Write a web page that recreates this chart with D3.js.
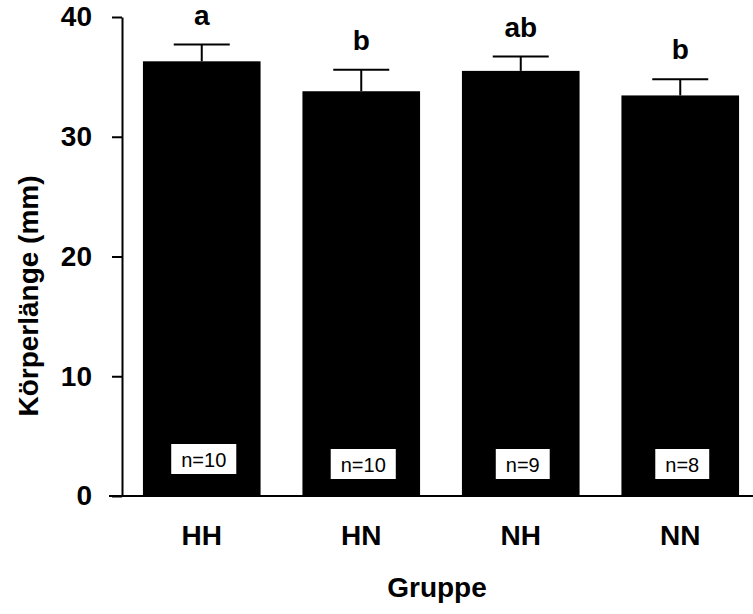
<!DOCTYPE html>
<html>
<head>
<meta charset="utf-8">
<script src="https://cdn.jsdelivr.net/npm/d3@7"></script>
<style>
  body { margin: 0; background: #fff; }
  svg { display: block; }
  text { font-family: "Liberation Sans", Arial, sans-serif; }
</style>
</head>
<body>
<div id="chart"></div>
<script>
// data
var groups = ["HH", "HN", "NH", "NN"];
var means = [36.3, 33.8, 35.5, 33.45];
var errors = [1.4, 1.8, 1.2, 1.35];
var letters = ["a", "b", "ab", "b"];
var counts = ["n=10", "n=10", "n=9", "n=8"];
var yTicks = [0, 10, 20, 30, 40];

var width = 753, height = 614;

var svg = d3.select("#chart")
	.append("svg")
	.attr("width", width)
	.attr("height", height);

// scales
var x = d3.scaleBand()
	.domain(groups)
	.range([122, 760])
	.paddingInner(0.2625)
	.paddingOuter(0.13125);

var y = d3.scaleLinear()
	.domain([0, 40])
	.range([496, 17]);

var data = groups.map(function (g, i) {
	return { group: g, mean: means[i], err: errors[i], letter: letters[i], n: counts[i] };
});

// bars
svg.selectAll(".bar")
	.data(data)
	.enter().append("rect")
	.attr("class", "bar")
	.attr("x", function (d) { return x(d.group); })
	.attr("y", function (d) { return y(d.mean); })
	.attr("width", x.bandwidth())
	.attr("height", function (d) { return y(0) - y(d.mean); })
	.attr("fill", "#000");

// error bars (upper only)
var cx = function (d) { return x(d.group) + x.bandwidth() / 2; };
svg.selectAll(".errv")
	.data(data)
	.enter().append("line")
	.attr("x1", cx).attr("x2", cx)
	.attr("y1", function (d) { return y(d.mean); })
	.attr("y2", function (d) { return y(d.mean + d.err); })
	.attr("stroke", "#000").attr("stroke-width", 2);
svg.selectAll(".errcap")
	.data(data)
	.enter().append("line")
	.attr("x1", function (d) { return cx(d) - 28; })
	.attr("x2", function (d) { return cx(d) + 28; })
	.attr("y1", function (d) { return y(d.mean + d.err); })
	.attr("y2", function (d) { return y(d.mean + d.err); })
	.attr("stroke", "#000").attr("stroke-width", 2);

// significance letters
svg.selectAll(".letter")
	.data(data)
	.enter().append("text")
	.attr("x", cx)
	.attr("y", function (d) { return y(d.mean + d.err) - 20; })
	.attr("text-anchor", "middle")
	.style("font-size", "28px")
	.style("font-weight", "bold")
	.text(function (d) { return d.letter; });

// n boxes inside bars
var nb = svg.selectAll(".nbox")
	.data(data)
	.enter().append("g")
	.attr("transform", function (d, i) { return "translate(" + (cx(d) + 2) + "," + (i == 0 ? 444 : 449) + ")"; });
nb.append("text")
	.attr("class", "ntext")
	.attr("y", 23)
	.attr("text-anchor", "middle")
	.style("font-size", "20px")
	.text(function (d) { return d.n; });
nb.each(function () {
	var g = d3.select(this);
	var bb = g.select("text").node().getBBox();
	g.insert("rect", "text")
		.attr("x", bb.x - 10)
		.attr("y", 0)
		.attr("width", bb.width + 20)
		.attr("height", 30)
		.attr("fill", "#fff");
});

// y axis
var yAxis = svg.append("g")
	.attr("transform", "translate(122,0)")
	.call(d3.axisLeft(y).tickValues(yTicks).tickSize(10).tickSizeOuter(0).tickPadding(20));
yAxis.select(".domain").attr("stroke-width", 2);
yAxis.selectAll(".tick line").attr("stroke-width", 2);
yAxis.selectAll(".tick text")
	.attr("fill", "#000")
	.style("font-family", "'Liberation Sans', Arial, sans-serif")
	.style("font-size", "28px")
	.style("font-weight", "bold");

// x axis line
svg.append("line")
	.attr("x1", 109).attr("x2", width)
	.attr("y1", y(0)).attr("y2", y(0))
	.attr("stroke", "#000").attr("stroke-width", 2);

// x labels
svg.selectAll(".xlab")
	.data(groups)
	.enter().append("text")
	.attr("x", function (d) { return x(d) + x.bandwidth() / 2; })
	.attr("y", 545)
	.attr("text-anchor", "middle")
	.style("font-size", "28px")
	.style("font-weight", "bold")
	.text(function (d) { return d; });

// axis titles
svg.append("text")
	.attr("x", 437).attr("y", 597)
	.attr("text-anchor", "middle")
	.style("font-size", "28px")
	.style("font-weight", "bold")
	.text("Gruppe");

svg.append("text")
	.attr("transform", "translate(38,296) rotate(-90)")
	.attr("text-anchor", "middle")
	.style("font-size", "28px")
	.style("font-weight", "bold")
	.text("Körperlänge (mm)");
</script>
</body>
</html>
